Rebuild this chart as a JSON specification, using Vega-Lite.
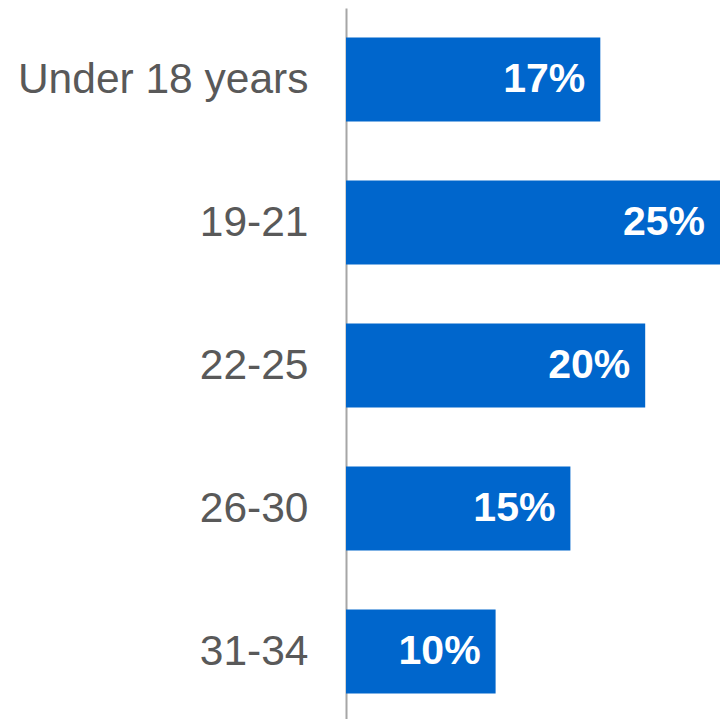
{
  "$schema": "https://vega.github.io/schema/vega-lite/v6.json",
  "autosize": {"type": "none"},
  "width": 374,
  "height": 715,
  "padding": {"left": 346, "top": 8, "right": 0, "bottom": 0},
  "background": "white",
  "config": {"view": {"stroke": null}},
  "data": {"values": [
    {"age": "Under 18 years", "pct": 0.17},
    {"age": "19-21", "pct": 0.25},
    {"age": "22-25", "pct": 0.20},
    {"age": "26-30", "pct": 0.15},
    {"age": "31-34", "pct": 0.10}
  ]},
  "encoding": {
    "y": {"field": "age", "type": "nominal", "sort": null,
      "scale": {"paddingInner": 0.413, "paddingOuter": 0.2065},
      "axis": {"title": null, "ticks": false, "labelFont": "Liberation Sans", "labelFontSize": 42.5, "labelColor": "#595959", "labelPadding": 38, "domainColor": "#A6A6A6", "domainWidth": 2, "labelLimit": 400}},
    "x": {"field": "pct", "type": "quantitative", "scale": {"domain": [0, 0.25], "nice": false}, "axis": null}
  },
  "layer": [
    {"mark": {"type": "bar", "color": "#0066CC"}},
    {"mark": {"type": "text", "align": "right", "baseline": "middle", "dx": -15, "font": "Liberation Sans", "fontSize": 41, "fontWeight": "bold", "color": "white"},
     "encoding": {"text": {"field": "pct", "type": "quantitative", "format": ".0%"}}}
  ]
}
